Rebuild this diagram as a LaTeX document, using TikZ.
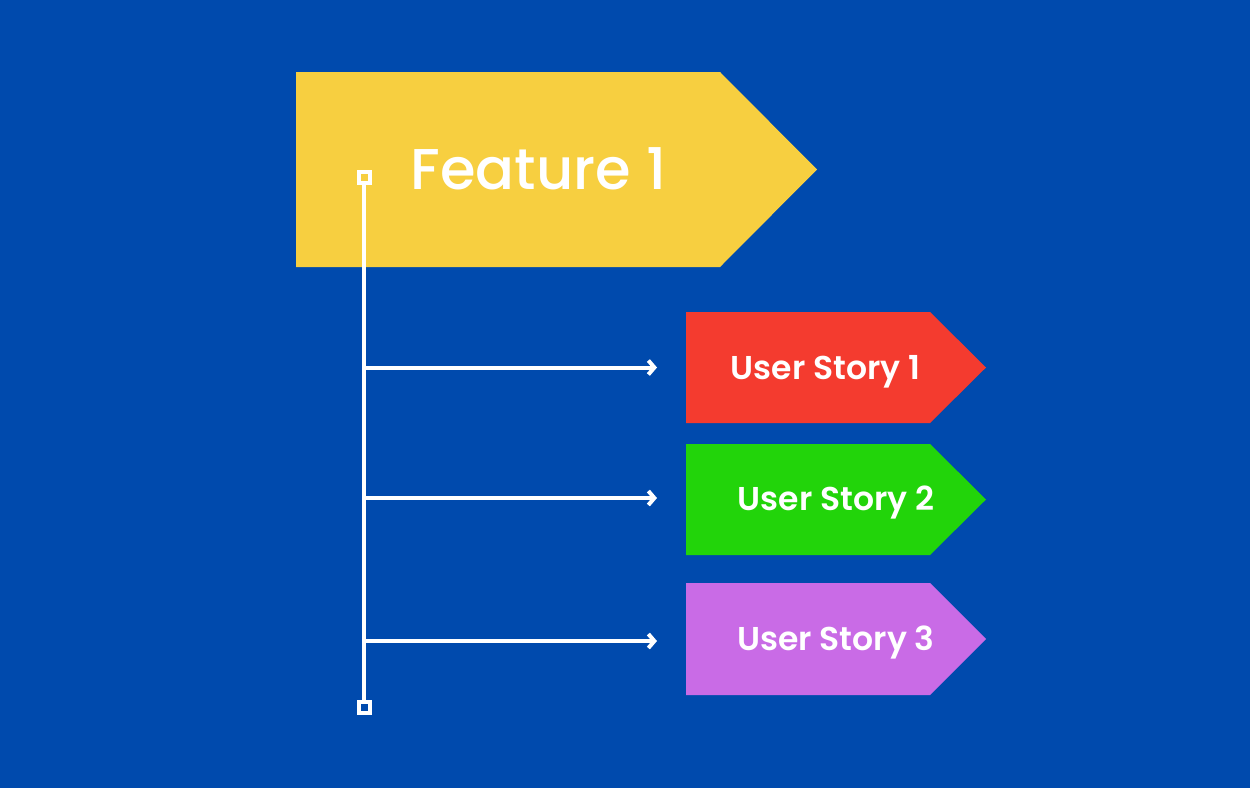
\documentclass[tikz,border=0pt]{standalone}
\usepackage{fontspec}
\setmainfont{Poppins}
\newfontfamily\popmed{Poppins Medium}
\newfontfamily\popsemi{Poppins SemiBold}
\usetikzlibrary{arrows.meta}
\definecolor{bg}{HTML}{004AAD}
\definecolor{featc}{HTML}{F7CF40}
\definecolor{redc}{HTML}{F43B2F}
\definecolor{greenc}{HTML}{22D40A}
\definecolor{purplec}{HTML}{C96BE6}
\tikzset{
  lbl/.style={text=white, inner sep=0pt, anchor=base},
  conn/.style={draw=white, line width=4pt},
  arr/.style={conn, line cap=round, -{Straight Barb[length=6pt,width=14pt,line width=4pt]}},
  endsq/.style={draw=white, line width=4pt, minimum size=11pt, inner sep=0pt, rectangle},
}
\begin{document}
\begin{tikzpicture}[x=1pt,y=-1pt]
\useasboundingbox (0,0) rectangle (1250,788);
\fill[bg] (0,0) rectangle (1250,788);
% shapes
\fill[featc] (296,72) -- (720,72) -- (817,169.5) -- (720,267) -- (296,267) -- cycle;
\fill[redc] (686,312) -- (930,312) -- (986,367.5) -- (930,423) -- (686,423) -- cycle;
\fill[greenc] (686,444) -- (930,444) -- (986,499.5) -- (930,555) -- (686,555) -- cycle;
\fill[purplec] (686,583) -- (930,583) -- (986,639) -- (930,695) -- (686,695) -- cycle;
% labels
\node[lbl, font=\fontsize{57.5}{60}\selectfont\popmed] (feat) at (538.5,189) {Feature 1};
\node[lbl, font=\fontsize{33}{36}\selectfont\popsemi] (us1) at (825.5,379) {User Story 1};
\node[lbl, font=\fontsize{33}{36}\selectfont\popsemi] (us2) at (836,510) {User Story 2};
\node[lbl, font=\fontsize{33}{36}\selectfont\popsemi] (us3) at (836,650) {User Story 3};
% end squares
\node[endsq] (top) at (364,177.5) {};
\node[endsq] (bot) at (364,707.5) {};
% branch points and targets
\coordinate (b1) at (364,367.5);
\coordinate (b2) at (364,498);
\coordinate (b3) at (364,641);
\coordinate (t1) at (657,367.5);
\coordinate (t2) at (657,498);
\coordinate (t3) at (657,641);
\draw[conn] (top.south) -- (bot.north);
\draw[arr] (b1) -- (t1);
\draw[arr] (b2) -- (t2);
\draw[arr] (b3) -- (t3);
\end{tikzpicture}
\end{document}
